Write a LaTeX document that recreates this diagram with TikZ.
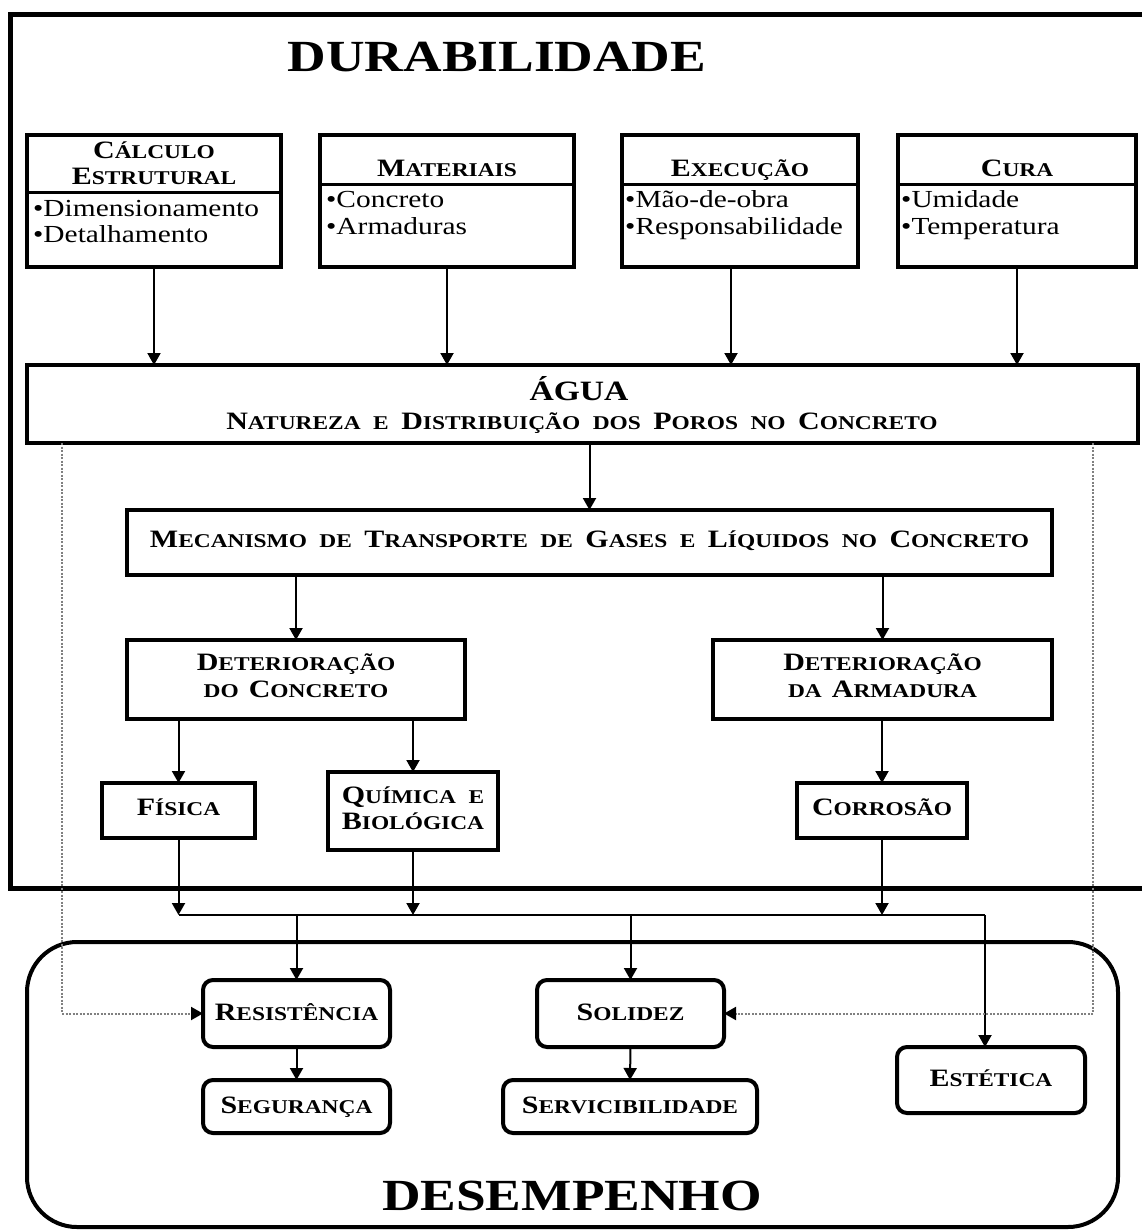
\documentclass[tikz,border=0pt]{standalone}
\usepackage{fontspec}
\setmainfont{Liberation Serif}[FakeStretch=1.2]
\usepackage{graphicx}
\usetikzlibrary{arrows.meta}
\newcommand\lc[1]{\scalebox{0.78}{#1}}
\begin{document}
\begin{tikzpicture}[x=1pt,y=-1pt,
 box/.style={draw, line width=4.5pt, outer sep=0pt, inner sep=0pt},
 rbox/.style={draw, line width=4pt, rounded corners=10pt, outer sep=0pt, inner sep=0pt},
 lab/.style={font=\fontsize{25}{28}\selectfont\bfseries, anchor=base, inner sep=0pt},
 body/.style={font=\fontsize{24.5}{26}\selectfont, anchor=base west, inner sep=0pt},
 conn/.style={line width=2pt, -{Triangle[length=12pt,width=13pt]}},
 plain/.style={line width=2pt},
 divider/.style={line width=3pt},
 dotline/.style={draw=black!50, line width=2pt, dash pattern=on 2pt off 1.5pt, -{Triangle[length=12pt,width=13pt,color=black]}},
 title/.style={font=\fontsize{44.5}{50}\selectfont\bfseries, anchor=base, inner sep=0pt}]
\useasboundingbox (0,0) rectangle (1142,1230);
\fill[white] (0,0) rectangle (1142,1230);

% Durabilidade frame
\draw[line width=5pt] (1142,15) -- (10,15) -- (10,888) -- (1142,888);
\node[title] (durtitle) at (497,72) {DURABILIDADE};

% top boxes
\node[box, minimum width=254pt, minimum height=132pt] (calc) at (154,201) {};
\node[box, minimum width=254pt, minimum height=132pt] (mat) at (447,201) {};
\node[box, minimum width=236pt, minimum height=132pt] (exe) at (740,201) {};
\node[box, minimum width=238pt, minimum height=132pt] (cura) at (1017,201) {};
\draw[divider] (calc.west |- 0,193) -- (calc.east |- 0,193);
\draw[divider] (mat.west |- 0,185) -- (mat.east |- 0,185);
\draw[divider] (exe.west |- 0,185) -- (exe.east |- 0,185);
\draw[divider] (cura.west |- 0,185) -- (cura.east |- 0,185);

\node[lab] (calch1) at (154,159) {C\lc{ÁLCULO}};
\node[lab] (calch2) at (154,185) {E\lc{STRUTURAL}};
\node[body] (calcb1) at (33,217) {•Dimensionamento};
\node[body] (calcb2) at (33,243) {•Detalhamento};

\node[lab] (math) at (447,177) {M\lc{ATERIAIS}};
\node[body] (matb1) at (326,208) {•Concreto};
\node[body] (matb2) at (326,235) {•Armaduras};

\node[lab] (exeh) at (740,177) {E\lc{XECUÇÃO}};
\node[body] (exeb1) at (625,208) {•Mão-de-obra};
\node[body] (exeb2) at (625,235) {•Responsabilidade};

\node[lab] (curah) at (1017,177) {C\lc{URA}};
\node[body] (curab1) at (901,208) {•Umidade};
\node[body] (curab2) at (901,235) {•Temperatura};

% Agua
\node[box, minimum width=1111pt, minimum height=78pt] (agua) at (582.5,404) {};
\node[lab, font=\fontsize{28}{30}\selectfont\bfseries] (aguat) at (579,400) {ÁGUA};
\node[lab] (aguas) at (582,429)
 {N\lc{ATUREZA}\hspace{0.5em}\lc{E}\hspace{0.5em}D\lc{ISTRIBUIÇÃO}\hspace{0.5em}\lc{DOS}\hspace{0.5em}P\lc{OROS}\hspace{0.5em}\lc{NO}\hspace{0.5em}C\lc{ONCRETO}};

% Mecanismo
\node[box, minimum width=925pt, minimum height=65pt] (mec) at (589.5,542.5) {};
\node[lab] (mect) at (589.5,547)
 {M\lc{ECANISMO}\hspace{0.5em}\lc{DE}\hspace{0.5em}T\lc{RANSPORTE}\hspace{0.5em}\lc{DE}\hspace{0.5em}G\lc{ASES}\hspace{0.5em}\lc{E}\hspace{0.5em}L\lc{ÍQUIDOS}\hspace{0.5em}\lc{NO}\hspace{0.5em}C\lc{ONCRETO}};

% Deterioracao
\node[box, minimum width=338pt, minimum height=79pt] (detc) at (296,679.5) {};
\node[lab] (detc1) at (296,670) {D\lc{ETERIORAÇÃO}};
\node[lab] (detc2) at (296,697) {\lc{DO}\hspace{0.4em}C\lc{ONCRETO}};
\node[box, minimum width=339pt, minimum height=79pt] (deta) at (882.5,679.5) {};
\node[lab] (deta1) at (882.5,670) {D\lc{ETERIORAÇÃO}};
\node[lab] (deta2) at (882.5,697) {\lc{DA}\hspace{0.4em}A\lc{RMADURA}};

% Fisica / Quimica / Corrosao
\node[box, minimum width=153pt, minimum height=55pt] (fis) at (178.5,810.5) {};
\node[lab] (fist) at (178.5,815) {F\lc{ÍSICA}};
\node[box, minimum width=170pt, minimum height=78pt] (qui) at (413,811) {};
\node[lab] (qui1) at (413,803) {Q\lc{UÍMICA}\hspace{0.5em}\lc{E}};
\node[lab] (qui2) at (413,829) {B\lc{IOLÓGICA}};
\node[box, minimum width=170pt, minimum height=55pt] (cor) at (882,810.5) {};
\node[lab] (cort) at (882,815) {C\lc{ORROSÃO}};

% Desempenho
\node[draw, line width=4pt, rounded corners=50pt, minimum width=1091pt, minimum height=285pt, outer sep=0pt, inner sep=0pt] (desemp) at (572.5,1084.5) {};
\node[title] (destitle) at (572,1210) {DESEMPENHO};

\node[rbox, minimum width=187pt, minimum height=67pt] (res) at (296.5,1013.5) {};
\node[lab] (rest) at (296.5,1020) {R\lc{ESISTÊNCIA}};
\node[rbox, minimum width=187pt, minimum height=53pt] (seg) at (296.5,1106.5) {};
\node[lab] (segt) at (296.5,1113) {S\lc{EGURANÇA}};
\node[rbox, minimum width=187pt, minimum height=67pt] (sol) at (630.5,1013.5) {};
\node[lab] (solt) at (630.5,1020) {S\lc{OLIDEZ}};
\node[rbox, minimum width=254pt, minimum height=53pt] (serv) at (630,1106.5) {};
\node[lab] (servt) at (630,1113) {S\lc{ERVICIBILIDADE}};
\node[rbox, minimum width=188pt, minimum height=66pt] (est) at (991,1080) {};
\node[lab] (estt) at (991,1086) {E\lc{STÉTICA}};

% connectors
\draw[conn] (calc.south) -- (calc.south |- agua.north);
\draw[conn] (mat.south) -- (mat.south |- agua.north);
\draw[conn] (exe.south -| 731,0) -- (agua.north -| 731,0);
\draw[conn] (cura.south) -- (cura.south |- agua.north);
\draw[conn] (agua.south -| mec.north) -- (mec.north);
\draw[conn] (mec.south -| detc.north) -- (detc.north);
\draw[conn] (mec.south -| deta.north) -- (deta.north);
\draw[conn] (detc.south -| fis.north) -- (fis.north);
\draw[conn] (detc.south -| qui.north) -- (qui.north);
\draw[conn] (deta.south -| cor.north) -- (cor.north);

\coordinate (busR) at (985,915);
\draw[conn] (fis.south) -- (fis.south |- busR);
\draw[conn] (qui.south) -- (qui.south |- busR);
\draw[conn] (cor.south) -- (cor.south |- busR);
\draw[plain] (fis.south |- busR) -- (busR);
\draw[conn] (busR) -- (busR |- est.north);
\draw[conn] (res.north |- busR) -- (res.north);
\draw[conn] (sol.north |- busR) -- (sol.north);
\draw[conn] (res.south) -- (seg.north);
\draw[conn] (sol.south) -- (serv.north);

\draw[dotline] (agua.south -| 62,0) |- (res.west);
\draw[dotline] (agua.south -| 1093,0) |- (sol.east);
\end{tikzpicture}
\end{document}
